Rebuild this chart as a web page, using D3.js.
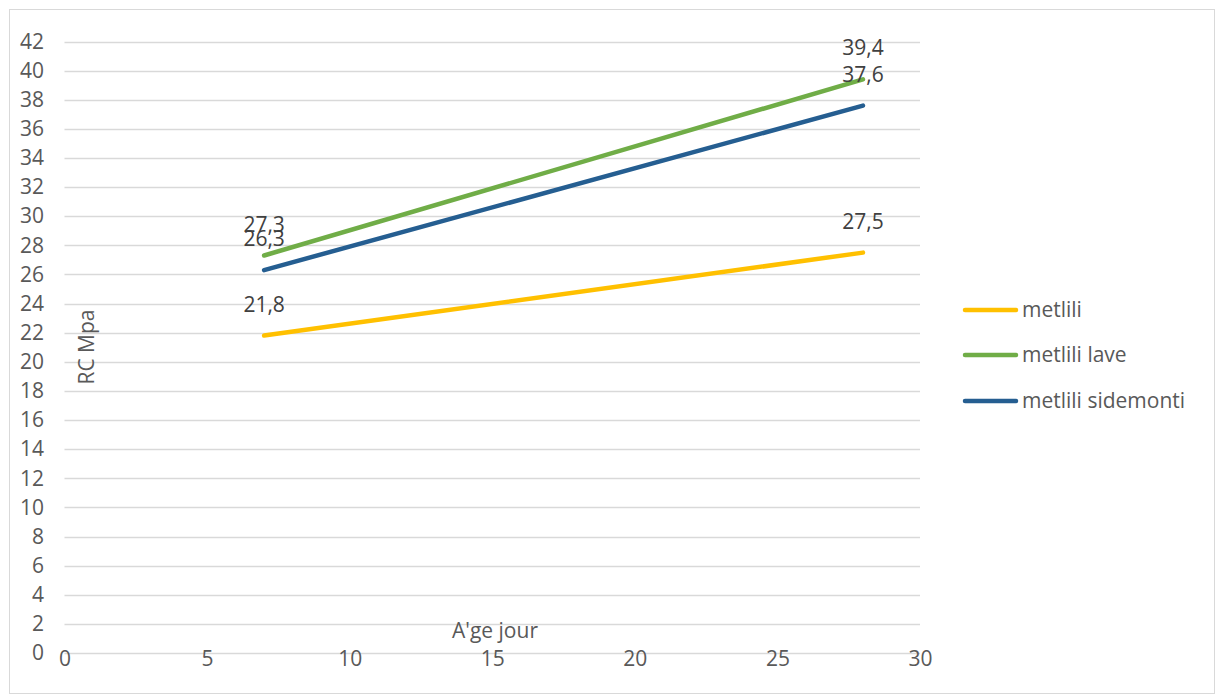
<!DOCTYPE html>
<html>
<head>
<meta charset="utf-8">
<script src="https://cdn.jsdelivr.net/npm/d3@7/dist/d3.min.js"></script>
<style>
  html, body { margin: 0; padding: 0; background: #fff; }
  svg { display: block; font-family: "Open Sans", sans-serif; }
</style>
</head>
<body>
<svg id="chart" width="1215" height="694"></svg>
<script>
// Compressive strength (MPa) by age (days)
const ages = [7, 28];
const seriesNames = ["metlili", "metlili lave", "metlili sidemonti"];
const metlili = [21.8, 27.5];
const metliliLave = [27.3, 39.4];
const metliliSidemonti = [26.3, 37.6];
const seriesColors = ["#FFC000", "#70AD47", "#255E91"];
const xTicks = [0, 5, 10, 15, 20, 25, 30];
const yTicks = d3.range(0, 43, 2);

const FONT = "'Open Sans', sans-serif";
const FS = 21;

const series = [
  { name: seriesNames[0], values: metlili, color: seriesColors[0] },
  { name: seriesNames[1], values: metliliLave, color: seriesColors[1] },
  { name: seriesNames[2], values: metliliSidemonti, color: seriesColors[2] }
];

const svg = d3.select("#chart");
const W = 1215, H = 694;

// outer chart border
svg.append("rect")
  .attr("x", 9.5).attr("y", 9.5)
  .attr("width", W - 10).attr("height", H - 10)
  .attr("fill", "#fff").attr("stroke", "#d9d9d9").attr("stroke-width", 1);

const x = d3.scaleLinear().domain([0, 30]).range([64.5, 920]);
const y = d3.scaleLinear().domain([0, 42]).range([653, 41.5]);

// horizontal gridlines
svg.append("g")
  .selectAll("line")
  .data(yTicks)
  .join("line")
  .attr("x1", x(0)).attr("x2", x(30))
  .attr("y1", d => Math.round(y(d)) + 0.5)
  .attr("y2", d => Math.round(y(d)) + 0.5)
  .attr("stroke", "#d9d9d9").attr("stroke-width", 1.3);

// y tick labels
const yAxis = d3.axisLeft(y).tickValues(yTicks).tickSize(0).tickPadding(0);
const gy = svg.append("g").attr("transform", "translate(44,0)").call(yAxis);
gy.select(".domain").remove();
gy.selectAll("text")
  .attr("font-family", FONT)
  .attr("font-size", FS).attr("fill", "#595959");

// x tick labels
const xAxis = d3.axisBottom(x).tickValues(xTicks).tickSize(0).tickPadding(0);
const gx = svg.append("g").attr("transform", "translate(0,651)").call(xAxis);
gx.select(".domain").remove();
gx.selectAll("text")
  .attr("font-family", FONT)
  .attr("font-size", FS).attr("fill", "#595959");

// axis titles
svg.append("text")
  .attr("transform", "translate(94,347) rotate(-90)")
  .attr("text-anchor", "middle")
  .attr("font-size", FS).attr("fill", "#595959")
  .text("RC Mpa");
svg.append("text")
  .attr("x", 495).attr("y", 638)
  .attr("text-anchor", "middle")
  .attr("font-size", FS).attr("fill", "#595959")
  .text("A'ge jour");

// series lines
const line = d3.line().x((d, i) => x(ages[i])).y(d => y(d));
svg.append("g")
  .selectAll("path")
  .data(series)
  .join("path")
  .attr("d", s => line(s.values))
  .attr("fill", "none")
  .attr("stroke", s => s.color)
  .attr("stroke-width", 4.5)
  .attr("stroke-linecap", "round");

// data labels
const fmt = v => d3.format(".1f")(v).replace(".", ",");
series.forEach(s => {
  svg.append("g")
    .selectAll("text")
    .data(s.values)
    .join("text")
    .attr("x", (d, i) => x(ages[i]))
    .attr("y", d => y(d) - 24)
    .attr("text-anchor", "middle")
    .attr("font-size", FS).attr("fill", "#404040")
    .text(d => fmt(d));
});

// legend
const legend = svg.append("g");
const legendY = [310, 355, 401];
series.forEach((s, i) => {
  legend.append("line")
    .attr("x1", 965).attr("x2", 1016)
    .attr("y1", legendY[i]).attr("y2", legendY[i])
    .attr("stroke", s.color).attr("stroke-width", 4.5)
    .attr("stroke-linecap", "round");
  legend.append("text")
    .attr("x", 1022).attr("y", legendY[i] + 7)
    .attr("font-size", FS).attr("fill", "#595959")
    .text(s.name);
});
</script>
</body>
</html>
